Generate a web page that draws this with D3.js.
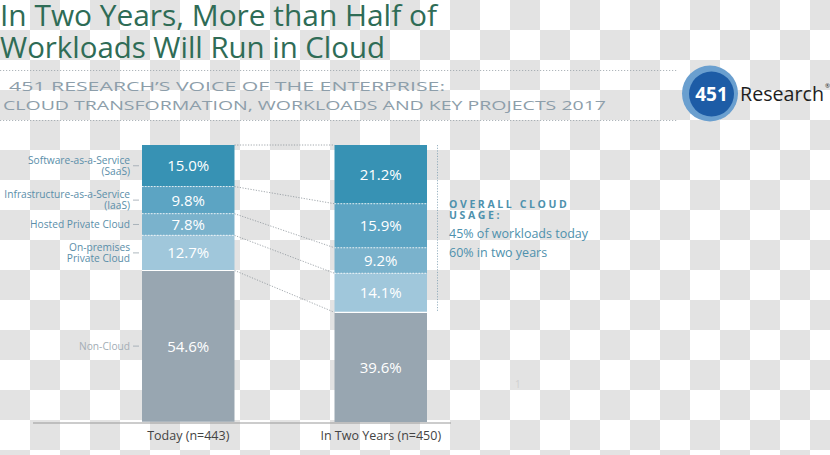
<!DOCTYPE html>
<html><head><meta charset="utf-8">
<script src="https://cdn.jsdelivr.net/npm/d3@7/dist/d3.min.js"></script>
<style>body{margin:0;background:#fff}svg{display:block}</style>
</head><body>
<svg id="chart" width="830" height="455"></svg>
<script>
const categories = ["Today (n=443)", "In Two Years (n=450)"];
const segmentNames = ["SaaS", "IaaS", "Hosted", "OnPrem", "NonCloud"];
const segmentLabels = [["Software-as-a-Service", "(SaaS)"], ["Infrastructure-as-a-Service", "(IaaS)"], ["Hosted Private Cloud"], ["On-premises", "Private Cloud"], ["Non-Cloud"]];
const todayValues = [15.0, 9.8, 7.8, 12.7, 54.6];
const twoYearValues = [21.2, 15.9, 9.2, 14.1, 39.6];
const segmentColors = ["#3792b4", "#5ca4c3", "#7ab2cc", "#a0c7db", "#98a6b1"];
const titleLines = ["In Two Years, More than Half of", "Workloads Will Run in Cloud"];
const subtitleLines = ["451 RESEARCH\u2019S VOICE OF THE ENTERPRISE:", "CLOUD TRANSFORMATION, WORKLOADS AND KEY PROJECTS 2017"];
const noteHead = ["OVERALL CLOUD", "USAGE:"];
const noteLines = ["45% of workloads today", "60% in two years"];

const svg = d3.select("#chart");
const font = "'Open Sans', 'DejaVu Sans', sans-serif";

// checkerboard background
const defs = svg.append("defs");
const pat = defs.append("pattern").attr("id", "checker").attr("width", 60).attr("height", 60).attr("patternUnits", "userSpaceOnUse");
pat.append("rect").attr("width", 60).attr("height", 60).attr("fill", "#ffffff");
pat.append("rect").attr("x", 30).attr("y", 0).attr("width", 30).attr("height", 30).attr("fill", "#e3e3e3");
pat.append("rect").attr("x", 0).attr("y", 30).attr("width", 30).attr("height", 30).attr("fill", "#e3e3e3");
svg.append("rect").attr("width", 830).attr("height", 455).attr("fill", "url(#checker)");

// title
const titleW = [437, 385];
svg.selectAll(".title").data(titleLines).join("text")
  .attr("x", 0).attr("y", (d, i) => 25.5 + i * 32.5)
  .attr("textLength", (d, i) => titleW[i]).attr("lengthAdjust", "spacingAndGlyphs")
  .attr("font-family", font).attr("font-size", 30).attr("fill", "#2f6c56")
  .text(d => d);

// dotted rules
[70.5, 120.5].forEach(y => svg.append("line").attr("x1", 0).attr("x2", 677).attr("y1", y).attr("y2", y)
  .attr("stroke", "#9aa3aa").attr("stroke-width", 0.8).attr("stroke-dasharray", "1.2,1.8"));

// subtitle
const subX = [9, 3], subW = [436, 603];
svg.selectAll(".sub").data(subtitleLines).join("text")
  .attr("x", (d, i) => subX[i]).attr("y", (d, i) => 91 + i * 19)
  .attr("textLength", (d, i) => subW[i]).attr("lengthAdjust", "spacingAndGlyphs")
  .attr("font-family", font).attr("font-size", 13).attr("fill", "#8d9eaa")
  .text(d => d);

// logo
const logo = svg.append("g");
logo.append("circle").attr("cx", 710).attr("cy", 93.5).attr("r", 28).attr("fill", "#6a9fcf");
logo.append("circle").attr("cx", 711.5).attr("cy", 94).attr("r", 22.5).attr("fill", "#1d5ca6");
logo.append("text").attr("x", 711.5).attr("y", 100.5).attr("text-anchor", "middle")
  .attr("font-family", font).attr("font-weight", 700).attr("font-size", 19).attr("fill", "#fff").text("451");
logo.append("text").attr("x", 740).attr("y", 100.5).attr("textLength", 84).attr("lengthAdjust", "spacingAndGlyphs")
  .attr("font-family", font).attr("font-size", 20).attr("fill", "#1e1e1e").text("Research");
logo.append("text").attr("x", 825).attr("y", 88).attr("font-family", font).attr("font-size", 6).attr("fill", "#1e1e1e").text("\u00ae");

// scales
const x = d3.scaleBand().domain(categories).range([142, 427]).paddingInner(0.5195).paddingOuter(0);
const y = d3.scaleLinear().domain([0, 100]).range([145, 422]);
const bw = x.bandwidth();

const series = [todayValues, twoYearValues];
const stacks = series.map(vals => {
  let c = 0;
  return vals.map((v, i) => { const s = {name: segmentNames[i], v, y0: c, y1: c + v, i}; c += v; return s; });
});

// connectors
const bounds = stacks.map(st => [0].concat(st.slice(0, 4).map(s => s.y1)));
const conn = svg.append("g");
bounds[0].forEach((b, i) => {
  conn.append("line")
    .attr("x1", x(categories[0]) + bw).attr("y1", y(b))
    .attr("x2", x(categories[1])).attr("y2", y(bounds[1][i]))
    .attr("stroke", "#8a9298").attr("stroke-width", 0.8).attr("stroke-dasharray", "1.2,1.5");
});

// bars
stacks.forEach((st, ci) => {
  const g = svg.append("g");
  g.selectAll("rect").data(st).join("rect")
    .attr("x", x(categories[ci])).attr("width", bw)
    .attr("y", d => y(d.y0)).attr("height", d => y(d.y1) - y(d.y0))
    .attr("fill", d => segmentColors[d.i]);
  g.selectAll("line").data(st.slice(0, 4)).join("line")
    .attr("x1", x(categories[ci])).attr("x2", x(categories[ci]) + bw)
    .attr("y1", d => y(d.y1)).attr("y2", d => y(d.y1))
    .attr("stroke", "#ffffff").attr("stroke-width", d => d.i === 3 ? 1.2 : 0.8)
    .attr("stroke-dasharray", d => d.i === 3 ? null : "1.5,1.5");
  g.selectAll("text").data(st).join("text")
    .attr("x", x(categories[ci]) + bw / 2).attr("y", d => y((d.y0 + d.y1) / 2) + 5.5)
    .attr("text-anchor", "middle").attr("font-family", font).attr("font-size", 15)
    .attr("fill", "#ffffff").text(d => d.v.toFixed(1) + "%");
});

// left labels
const lg = svg.append("g");
stacks[0].forEach((s, i) => {
  const cy = y((s.y0 + s.y1) / 2);
  const lines = segmentLabels[i];
  const col = i === 4 ? "#a3adb5" : "#5a8ea9";
  const t = lg.append("text").attr("text-anchor", "end").attr("font-family", font).attr("font-size", 10.2)
    .attr("fill", col);
  lines.forEach((l, j) => {
    t.append("tspan").attr("x", 130).attr("y", cy + 3.5 + (j - (lines.length - 1) / 2) * 11).text(l);
  });
  lg.append("line").attr("x1", 133).attr("x2", 139).attr("y1", cy).attr("y2", cy)
    .attr("stroke", "#9aa6ae").attr("stroke-width", 0.8);
});

// bracket line
svg.append("line").attr("x1", 437.5).attr("x2", 437.5)
  .attr("y1", y(0)).attr("y2", y(bounds[1][4]))
  .attr("stroke", "#7f9fb3").attr("stroke-width", 0.8).attr("stroke-dasharray", "1.2,1.5");

// axis
const axis = svg.append("g").attr("transform", "translate(0,423)")
  .call(d3.axisBottom(x).tickSize(0).tickPadding(8));
axis.select(".domain").remove();
axis.append("line").attr("x1", 33).attr("x2", 451).attr("stroke", "#9a9a9a").attr("stroke-width", 1.2);
axis.selectAll(".tick text").attr("font-family", font).attr("font-size", 12.5).attr("fill", "#444");

// note
const nh = svg.append("text").attr("font-family", font).attr("font-size", 10.5).attr("font-weight", 700)
  .attr("letter-spacing", 2.6).attr("fill", "#4e91ad");
noteHead.forEach((d, i) => nh.append("tspan").attr("x", 449).attr("y", 208 + i * 11).text(d));
svg.selectAll(".nl").data(noteLines).join("text")
  .attr("x", 449).attr("y", (d, i) => 238 + i * 19)
  .attr("font-family", font).attr("font-size", 12.5).attr("fill", "#4e91ad").text(d => d);

// page number
svg.append("text").attr("x", 515).attr("y", 388).attr("font-family", font).attr("font-size", 10)
  .attr("fill", "#d0d0d0").text("1");
</script>
</body></html>
